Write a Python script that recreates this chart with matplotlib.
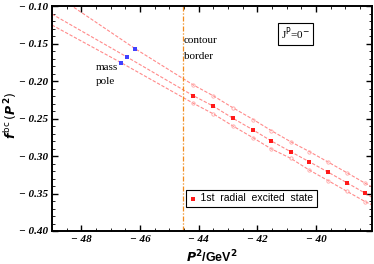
import matplotlib
matplotlib.use("Agg")
import matplotlib.pyplot as plt
from matplotlib.ticker import MultipleLocator, FuncFormatter

# P^2 positions of the 1st radial excited state points
p2_pts = [-44.18, -43.51, -42.83, -42.14, -41.52, -40.86, -40.23, -39.58, -38.95, -38.32]
f_mid = [-0.2196, -0.2333, -0.2497, -0.2653, -0.2800, -0.2943, -0.3076, -0.3217, -0.3356, -0.3497]
f_up = [-0.2053, -0.2195, -0.2357, -0.2513, -0.2662, -0.2810, -0.2940, -0.3082, -0.3222, -0.3364]
f_low = [-0.2297, -0.2436, -0.2600, -0.2758, -0.2906, -0.3031, -0.3187, -0.3330, -0.3470, -0.3609]

# mass pole points (upper, middle, lower)
pole_p2 = [-46.16, -46.46, -46.64]
pole_f = [-0.157, -0.1676, -0.1756]

# line ends at the frame
p2_left, p2_right = -49.0, -38.1
f_left = [-0.082, -0.1107, -0.1253]
f_right = [-0.341, -0.3548, -0.365]

contour_p2 = -44.55

fig = plt.figure(figsize=(3.74, 2.64), dpi=100)
ax = fig.add_axes([0.139, 0.125, 0.855, 0.852])

line_col = '#ff8a8a'
for i, fs in enumerate([f_up, f_mid, f_low]):
    xs = [p2_left, pole_p2[i]] + p2_pts + [p2_right]
    ys = [f_left[i], pole_f[i]] + fs + [f_right[i]]
    ax.plot(xs, ys, color=line_col, lw=0.8, ls=(0, (3, 1.5)), zorder=2)

ax.plot(p2_pts, f_up, 'o', ms=2.4, mfc='none', mec='#ffa8a8', mew=0.6, zorder=3)
ax.plot(p2_pts, f_low, 'o', ms=2.4, mfc='none', mec='#ffa8a8', mew=0.6, zorder=3)
ax.plot(p2_pts, f_mid, 's', ms=2.2, color='#ff1a1a', mew=0, zorder=4)
ax.plot(pole_p2, pole_f, 's', ms=2.2, color='#4040ff', mew=0, zorder=4)

ax.axvline(contour_p2, color='#f08c1e', lw=0.9, ls=(0, (4, 1.5, 1, 1.5)), zorder=2)

ax.set_xlim(p2_left, p2_right)
ax.set_ylim(-0.40, -0.10)

ax.xaxis.set_major_locator(MultipleLocator(2))
ax.xaxis.set_minor_locator(MultipleLocator(0.5))
ax.yaxis.set_major_locator(MultipleLocator(0.05))
ax.yaxis.set_minor_locator(MultipleLocator(0.01))
ax.xaxis.set_major_formatter(FuncFormatter(lambda v, p: '\u2212 %d' % abs(v)))
ax.yaxis.set_major_formatter(FuncFormatter(lambda v, p: '\u2212 %.2f' % abs(v)))
ax.tick_params(which='both', direction='in', top=True, right=True, pad=3)
ax.tick_params(which='major', length=4, width=1.0)
ax.tick_params(which='minor', length=2, width=0.6)
for lab in ax.get_xticklabels() + ax.get_yticklabels():
    lab.set_fontfamily('Liberation Serif')
    lab.set_fontstyle('italic')
    lab.set_fontweight('bold')
    lab.set_fontsize(8)
for s in ax.spines.values():
    s.set_linewidth(1.4)

ax.set_xlabel(r'$\boldsymbol{P}^{\mathbf{2}}$' + '/GeV' + r'$^{\mathbf{2}}$',
              fontfamily='Liberation Sans', fontweight='bold', fontsize=9, labelpad=3)
fig.text(0.027, 0.565, r'$\boldsymbol{f}^{\,\mathrm{bc}}\,(\boldsymbol{P}^{\,\mathbf{2}})$',
         rotation=90, ha='center', va='center', fontsize=9)

serif = 'Liberation Serif'
ax.text(0.138, 0.726, 'mass', transform=ax.transAxes, fontfamily=serif, fontsize=8, va='center')
ax.text(0.138, 0.663, 'pole', transform=ax.transAxes, fontfamily=serif, fontsize=8, va='center')
ax.text(0.413, 0.845, 'contour', transform=ax.transAxes, fontfamily=serif, fontsize=8, va='center')
ax.text(0.413, 0.777, 'border', transform=ax.transAxes, fontfamily=serif, fontsize=8, va='center')
ax.text(0.762, 0.877, r'J$^{\mathrm{P}}$=0$^{-}$', transform=ax.transAxes, fontfamily=serif,
        fontsize=8, ha='center', va='center',
        bbox=dict(boxstyle='square,pad=0.25', fc='white', ec='black', lw=0.8))

ax.text(0.43, 0.145, '    1st  radial  excited  state', transform=ax.transAxes,
        fontfamily='Liberation Sans', fontsize=7.5, ha='left', va='center',
        bbox=dict(boxstyle='square,pad=0.3', fc='white', ec='black', lw=0.8), zorder=5)
ax.plot([0.44], [0.142], 's', ms=2.2, color='#ff1a1a', mew=0, transform=ax.transAxes, zorder=6)

fig.savefig('out.png', dpi=100)
